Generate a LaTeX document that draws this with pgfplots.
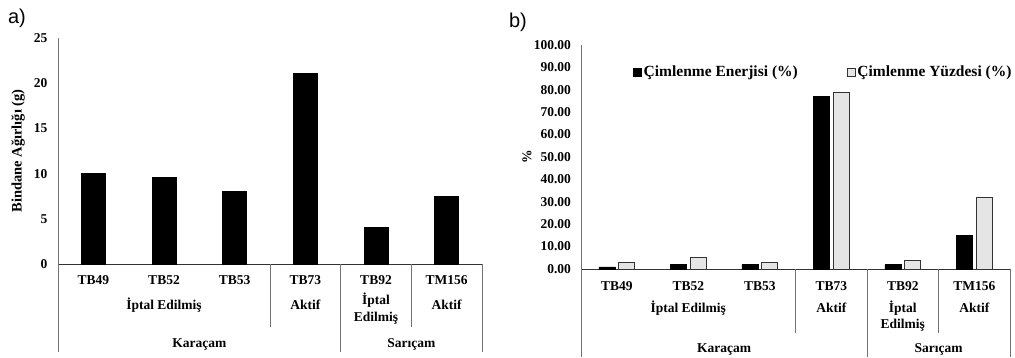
\documentclass[border=0pt]{standalone}
\usepackage{pgfplots}
\pgfplotsset{compat=1.18}
\usepackage{fontspec}
\setmainfont{Liberation Serif}
\newfontfamily\sansf{Liberation Sans}
\newcommand\lab{\bfseries\fontsize{13.5}{17}\selectfont}
\tikzset{sep/.style={black!55, line width=0.8pt}}

\begin{document}
\begin{tikzpicture}
\useasboundingbox (0,0) rectangle (1015pt,358pt);
\pgfplotsset{
 common/.style={
  scale only axis, clip=false,
  xmin=-0.5, xmax=5.5, ymin=0,
  xtick={0,...,5},
  xticklabels={TB49,TB52,TB53,TB73,TB92,TM156},
  tick style={draw=none},
  major tick length=0pt,
  axis x line=bottom, axis y line=left,
  x axis line style={-, black!80, line width=0.8pt},
  y axis line style={-, black!55, line width=0.8pt},
  ticklabel style={font=\lab},
  /pgf/number format/assume math mode=true,
  ybar,
 },
}
% ---------------- a) ----------------
\begin{axis}[common,
  at={(58pt,94pt)}, anchor=south west,
  width=424pt, height=226pt,
  ymax=25, ytick={0,5,...,25},
  bar width=24pt,
  xticklabel style={anchor=center, yshift=-16pt},
  yticklabel style={xshift=-7pt},
  ylabel={Bindane Ağırlığı (g)},
  every axis y label/.style={at={(axis description cs:-0.0943,0.5)}, rotate=90, anchor=center, font=\bfseries\fontsize{14.5}{17}\selectfont},
]
\addplot[fill=black, draw=black] coordinates {(0,10.0) (1,9.6) (2,8.0) (3,21.1) (4,4.05) (5,7.5)};
\draw[sep] (axis cs:-0.5,0) -- ++(0pt,-88pt);
\draw[sep] (axis cs:2.5,0) -- ++(0pt,-63pt);
\draw[sep] (axis cs:3.5,0) -- ++(0pt,-88pt);
\draw[sep] (axis cs:4.5,0) -- ++(0pt,-63pt);
\draw[sep] (axis cs:5.5,0) -- ++(0pt,-88pt);
\node[font=\lab] at (axis cs:1,0) [yshift=-41pt] {İptal Edilmiş};
\node[font=\lab] at (axis cs:3,0) [yshift=-41pt] {Aktif};
\node[font=\lab, align=center] at (axis cs:4,0) [yshift=-45pt] {İptal\\Edilmiş};
\node[font=\lab] at (axis cs:5,0) [yshift=-41pt] {Aktif};
\node[font=\lab] at (axis cs:1.5,0) [yshift=-80pt] {Karaçam};
\node[font=\lab] at (axis cs:4.5,0) [yshift=-80pt] {Sarıçam};
\end{axis}
\node[font=\sansf\fontsize{20}{24}\selectfont] at (17pt,340pt) {a)};
% ---------------- b) ----------------
\begin{axis}[common,
  at={(581pt,89pt)}, anchor=south west,
  width=429pt, height=224pt,
  ymax=100, ytick={0,10,...,100},
  bar width=16pt, ybar=4pt,
  xticklabel style={anchor=center, yshift=-17pt},
  yticklabel style={xshift=-6.5pt, /pgf/number format/.cd, fixed, fixed zerofill, precision=2},
  ylabel={\%},
  every axis y label/.style={at={(axis description cs:-0.126,0.5)}, rotate=90, anchor=center, font=\lab},
  legend columns=2,
  legend style={at={(0.121,0.879)}, anchor=west, draw=none, fill=none, inner sep=0pt,
    font=\bfseries\fontsize{15.5}{18}\selectfont,
    nodes={inner sep=2pt},
    /tikz/every even column/.append style={column sep=47pt}},
  legend image code/.code={\draw[#1, line width=0.6pt] (0pt,-4pt) rectangle (8pt,4pt);},
]
\addplot[fill=black, draw=black] coordinates {(0,1.0) (1,2.0) (2,2.0) (3,77.0) (4,2.0) (5,15.0)};
\addlegendentry{Çimlenme Enerjisi (\%)}
\addplot[fill=black!10, draw=black!80, line width=0.8pt] coordinates {(0,3.0) (1,5.0) (2,3.0) (3,79.0) (4,4.0) (5,32.0)};
\addlegendentry{Çimlenme Yüzdesi (\%)}
\draw[sep] (axis cs:-0.5,0) -- ++(0pt,-88pt);
\draw[sep] (axis cs:2.5,0) -- ++(0pt,-64pt);
\draw[sep] (axis cs:3.5,0) -- ++(0pt,-88pt);
\draw[sep] (axis cs:4.5,0) -- ++(0pt,-64pt);
\draw[sep] (axis cs:5.5,0) -- ++(0pt,-88pt);
\node[font=\lab] at (axis cs:1,0) [yshift=-39pt] {İptal Edilmiş};
\node[font=\lab] at (axis cs:3,0) [yshift=-39pt] {Aktif};
\node[font=\bfseries\fontsize{13.5}{16}\selectfont, align=center] at (axis cs:4,0) [yshift=-47pt] {İptal\\Edilmiş};
\node[font=\lab] at (axis cs:5,0) [yshift=-39pt] {Aktif};
\node[font=\lab] at (axis cs:1.5,0) [yshift=-80pt] {Karaçam};
\node[font=\lab] at (axis cs:4.5,0) [yshift=-80pt] {Sarıçam};
\end{axis}
\node[font=\sansf\fontsize{20}{24}\selectfont] at (518pt,336pt) {b)};
\end{tikzpicture}
\end{document}
